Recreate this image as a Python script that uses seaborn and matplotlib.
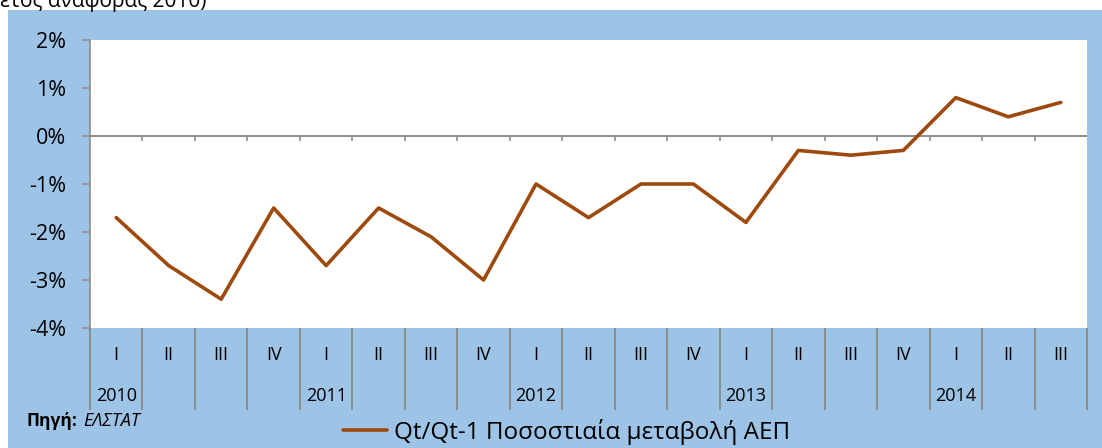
import matplotlib
matplotlib.use('Agg')
import matplotlib.pyplot as plt
import matplotlib.transforms as mtransforms
from matplotlib.patches import Rectangle
from matplotlib.lines import Line2D
import seaborn as sns
import pandas as pd

# data (% q/q change of GDP)
years = ['2010', '2011', '2012', '2013', '2014']
quarters = ['I', 'II', 'III', 'IV', 'I', 'II', 'III', 'IV', 'I', 'II', 'III', 'IV',
            'I', 'II', 'III', 'IV', 'I', 'II', 'III']
gdp_change = [-1.7, -2.7, -3.4, -1.5, -2.7, -1.5, -2.1, -3.0, -1.0, -1.7, -1.0, -1.0,
              -1.8, -0.3, -0.4, -0.3, 0.8, 0.4, 0.7]
series_name = 'Qt/Qt-1 Ποσοστιαία μεταβολή ΑΕΠ'
source_label = 'ΕΛΣΤΑΤ'

df = pd.DataFrame({'idx': range(len(gdp_change)), 'value': gdp_change})

sns.set_style('white')
plt.rcParams['font.family'] = ['Open Sans', 'DejaVu Sans']
plt.rcParams['text.color'] = 'black'
plt.rcParams['ytick.labelcolor'] = 'black'

bg = '#9DC3E6'
line_col = '#9E4A0C'
grey = '#8C8C8C'

fig = plt.figure(figsize=(11.02, 4.48), dpi=100)
fig.patch.set_facecolor('white')
# blue chart-area background (top strip stays white)
fig.patches.append(Rectangle((8 / 1102, 0), 1, 1 - 10 / 448, transform=fig.transFigure,
                             facecolor=bg, edgecolor='none', zorder=-5))
# cut-off caption from the page above
fig.text(0.0, 1 - 1 / 448, 'έτος αναφοράς 2010)', fontsize=15, ha='left', va='center')

ax = fig.add_axes([90 / 1102, 1 - 328 / 448, (1087 - 90) / 1102, (328 - 40) / 448])
ax.set_facecolor('white')

sns.lineplot(data=df, x='idx', y='value', ax=ax, color=line_col, linewidth=2.6,
             legend=False, zorder=3)

ax.set_xlim(-0.5, len(gdp_change) - 0.5)
ax.set_ylim(-4, 2)
ax.set_yticks(range(-4, 3))
ax.set_yticklabels([f'{v}%' for v in range(-4, 3)], fontsize=15.5)
ax.set_xticks([])
ax.set_xlabel('')
ax.set_ylabel('')
for s in ['top', 'right', 'bottom']:
    ax.spines[s].set_visible(False)
ax.spines['left'].set_color(grey)
ax.spines['left'].set_linewidth(1.2)
ax.tick_params(axis='y', length=6, color=grey, width=1.2, pad=11, left=True,
               labelcolor='black')

# zero line with small ticks at category boundaries
ax.axhline(0, color=grey, linewidth=1.4, zorder=2)
bounds = [i - 0.5 for i in range(len(gdp_change) + 1)]
ax.vlines(bounds[1:-1], -0.1, 0, color=grey, linewidth=1.2, zorder=2)

# category axis below the plot: separators and labels
trans = mtransforms.blended_transform_factory(ax.transData, ax.transAxes)
depth = (410 - 328) / 288
ax.vlines(bounds, -depth, 0, color=grey, linewidth=1.4, transform=trans, clip_on=False)
for i, q in enumerate(quarters):
    ax.text(i, -27 / 288, q, transform=trans, ha='center', va='center', fontsize=13)
for k, y in enumerate(years):
    ax.text(k * 4, -68 / 288, y, transform=trans, ha='center', va='center', fontsize=13)

# source note
fig.text(27 / 1102, 1 - 421 / 448, 'Πηγή:', fontsize=12.5, fontweight='bold', va='center')
fig.text(83 / 1102, 1 - 421 / 448, source_label, fontsize=13, fontstyle='italic', va='center')

# legend
handle = Line2D([], [], color=line_col, linewidth=2.6)
fig.legend([handle], [series_name], loc='center left',
           bbox_to_anchor=(343 / 1102, 1 - 432 / 448), frameon=False, fontsize=17.5,
           handlelength=1.8, handletextpad=0.3, borderaxespad=0, borderpad=0,
           labelcolor='black')

fig.savefig('out.png', dpi=100)
